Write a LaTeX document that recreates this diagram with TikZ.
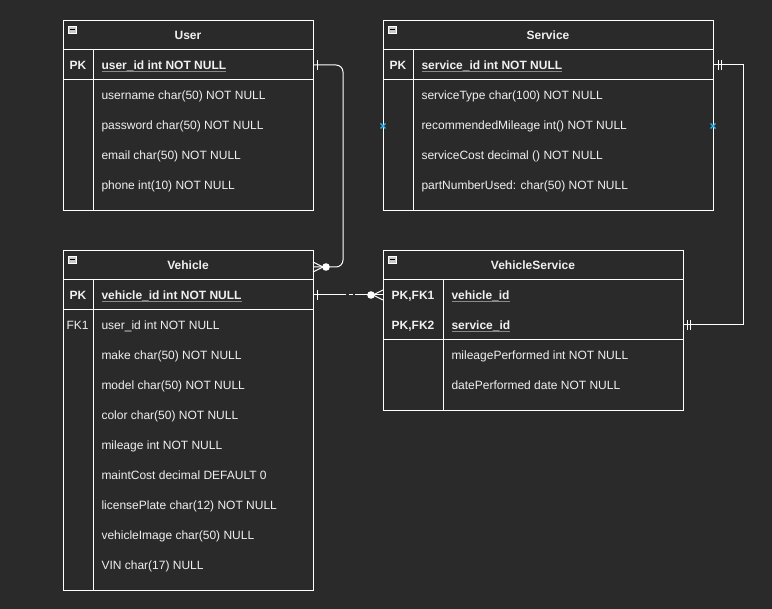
\documentclass[tikz,border=0pt]{standalone}
\usepackage{fontspec}
\setmainfont{Liberation Sans}
\usetikzlibrary{calc}
\definecolor{bg}{HTML}{2A2A2A}
\definecolor{fg}{HTML}{F0F0F0}
\definecolor{ulgray}{HTML}{8A8A8A}
\definecolor{mark}{HTML}{29B6F2}
\definecolor{icon}{HTML}{C8C8C8}
\newcommand\ulfield[1]{\setbox0\hbox{#1}\rlap{\color{ulgray}\rule[-2.2pt]{\wd0}{1pt}}\box0}
\begin{document}
\begin{tikzpicture}[x=1pt,y=-1pt,line width=1pt,
  every node/.style={font=\fontsize{12}{14}\selectfont},
  tbl/.style={draw=white,line width=1pt,rectangle,inner sep=0pt,anchor=north west},
  sep/.style={draw=white,line width=1pt},
  fld/.style={anchor=base west,inner sep=0pt,text=fg},
  keyl/.style={anchor=base,inner sep=0pt,text=fg,font=\fontsize{12}{14}\selectfont\bfseries},
  ttl/.style={anchor=base,inner sep=0pt,text=fg,font=\fontsize{12}{14}\selectfont\bfseries},
  conn/.style={draw=white,line width=1pt},
  cmark/.style={draw=mark,line width=1.2pt},
  iconbox/.style={draw=white,fill=icon,line width=0.6pt,minimum width=8pt,minimum height=7pt,inner sep=0pt,anchor=north west}]
\fill[bg] (0,0) rectangle (772,609);
\useasboundingbox (0,0) rectangle (772,609);

% ---------- User ----------
\node[tbl,minimum width=250pt,minimum height=190pt] (user) at (63,20) {};
\draw[sep] (63,50) -- (313,50) (63,80) -- (313,80) (93,50) -- (93,210);
\node[iconbox] (ui) at (68,26) {};
\draw[black,line width=1pt] (69.5,29.5) -- (74.5,29.5);
\node[ttl] (ut) at (188,39.5) {User};
\node[keyl] (upk) at (78,69.5) {PK};
\node[fld,font=\fontsize{12}{14}\selectfont\bfseries] (u0) at (101,69.5) {\ulfield{user\_id int NOT NULL}};
\node[fld] (u1) at (101,100) {username char(50) NOT NULL};
\node[fld] (u2) at (101,130) {password char(50) NOT NULL};
\node[fld] (u3) at (101,160) {email char(50) NOT NULL};
\node[fld] (u4) at (101,190) {phone int(10) NOT NULL};

% ---------- Service ----------
\node[tbl,minimum width=330pt,minimum height=190pt] (service) at (383,20) {};
\draw[sep] (383,50) -- (713,50) (383,80) -- (713,80) (413,50) -- (413,210);
\node[iconbox] (si) at (388,26) {};
\draw[black,line width=1pt] (389.5,29.5) -- (394.5,29.5);
\node[ttl] (st) at (548,39.5) {Service};
\node[keyl] (spk) at (398,69.5) {PK};
\node[fld,font=\fontsize{12}{14}\selectfont\bfseries] (s0) at (421,69.5) {\ulfield{service\_id int NOT NULL}};
\node[fld] (s1) at (421,100) {serviceType char(100) NOT NULL};
\node[fld] (s2) at (421,130) {recommendedMileage int() NOT NULL};
\node[fld] (s3) at (421,160) {serviceCost decimal () NOT NULL};
\node[fld] (s4) at (421,190) {partNumberUsed: char(50) NOT NULL};

% ---------- Vehicle ----------
\node[tbl,minimum width=250pt,minimum height=340pt] (vehicle) at (63,250) {};
\draw[sep] (63,280) -- (313,280) (63,310) -- (313,310) (93,280) -- (93,590);
\node[iconbox] (vi) at (68,256) {};
\draw[black,line width=1pt] (69.5,259.5) -- (74.5,259.5);
\node[ttl] (vt) at (188,269.5) {Vehicle};
\node[keyl] (vpk) at (78,299.5) {PK};
\node[fld,font=\fontsize{12}{14}\selectfont\bfseries] (v0) at (101,299.5) {\ulfield{vehicle\_id int NOT NULL}};
\node[fld] (vfk) at (66,330) {FK1};
\node[fld] (v1) at (101,330) {user\_id int NOT NULL};
\node[fld] (v2) at (101,360) {make char(50) NOT NULL};
\node[fld] (v3) at (101,390) {model char(50) NOT NULL};
\node[fld] (v4) at (101,420) {color char(50) NOT NULL};
\node[fld] (v5) at (101,450) {mileage int NOT NULL};
\node[fld] (v6) at (101,480) {maintCost decimal DEFAULT 0};
\node[fld] (v7) at (101,510) {licensePlate char(12) NOT NULL};
\node[fld] (v8) at (101,540) {vehicleImage char(50) NULL};
\node[fld] (v9) at (101,570) {VIN char(17) NULL};

% ---------- VehicleService ----------
\node[tbl,minimum width=300pt,minimum height=160pt] (vs) at (383,250) {};
\draw[sep] (383,280) -- (683,280) (383,340) -- (683,340) (443,280) -- (443,410);
\node[iconbox] (vsi) at (388,256) {};
\draw[black,line width=1pt] (389.5,259.5) -- (394.5,259.5);
\node[ttl] (vst) at (533,269.5) {VehicleService};
\node[keyl] (vsk1) at (413,300) {PK,FK1};
\node[keyl] (vsk2) at (413,330) {PK,FK2};
\node[fld,font=\fontsize{12}{14}\selectfont\bfseries] (vs1) at (451,300) {\ulfield{vehicle\_id}};
\node[fld,font=\fontsize{12}{14}\selectfont\bfseries] (vs2) at (451,330) {\ulfield{service\_id}};
\node[fld] (vs3) at (451,360) {mileagePerformed int NOT NULL};
\node[fld] (vs4) at (451,390) {datePerformed date NOT NULL};

% ---------- connection points ----------
\coordinate (userpk) at (313,65);
\coordinate (vehfk) at (313,267);
\coordinate (vehpk) at (313,295);
\coordinate (vsfk1) at (383,295);
\coordinate (servpk) at (713,65);
\coordinate (vsfk2) at (683,325);
\coordinate (m1) at (383,126);
\coordinate (m2) at (713,126);

% User -> Vehicle (one to zero-or-many)
\draw[conn,rounded corners=7pt] (userpk) -| (343,267) -- (vehfk);
\draw[conn] (317,60) -- (317,70);
\draw[conn] (313,262) -- (323,267) -- (313,272);
\fill[white] (326,267) circle (3.8pt);

% Vehicle -> VehicleService
\draw[conn] (vehpk) -- (342,295);
\draw[conn,dash pattern=on 4pt off 2.5pt] (342,295) -- (358,295);
\draw[conn] (358,295) -- (vsfk1);
\draw[conn] (317,290) -- (317,300);
\draw[conn] (383,290) -- (373,295) -- (383,300);
\fill[white] (371,295) circle (3.8pt);

% Service -> VehicleService (one and only one)
\draw[conn] (servpk) -- (743,65) -- (743,325) -- (vsfk2);
\draw[conn] (718.5,60) -- (718.5,70) (721.5,60) -- (721.5,70);
\draw[conn] (687.5,320) -- (687.5,330) (690.5,320) -- (690.5,330);

% blue markers
\draw[cmark] ($(m1)+(-2.5,-2.5)$) -- ($(m1)+(2.5,2.5)$) ($(m1)+(-2.5,2.5)$) -- ($(m1)+(2.5,-2.5)$);
\draw[cmark] ($(m2)+(-2.5,-2.5)$) -- ($(m2)+(2.5,2.5)$) ($(m2)+(-2.5,2.5)$) -- ($(m2)+(2.5,-2.5)$);
\end{tikzpicture}
\end{document}
